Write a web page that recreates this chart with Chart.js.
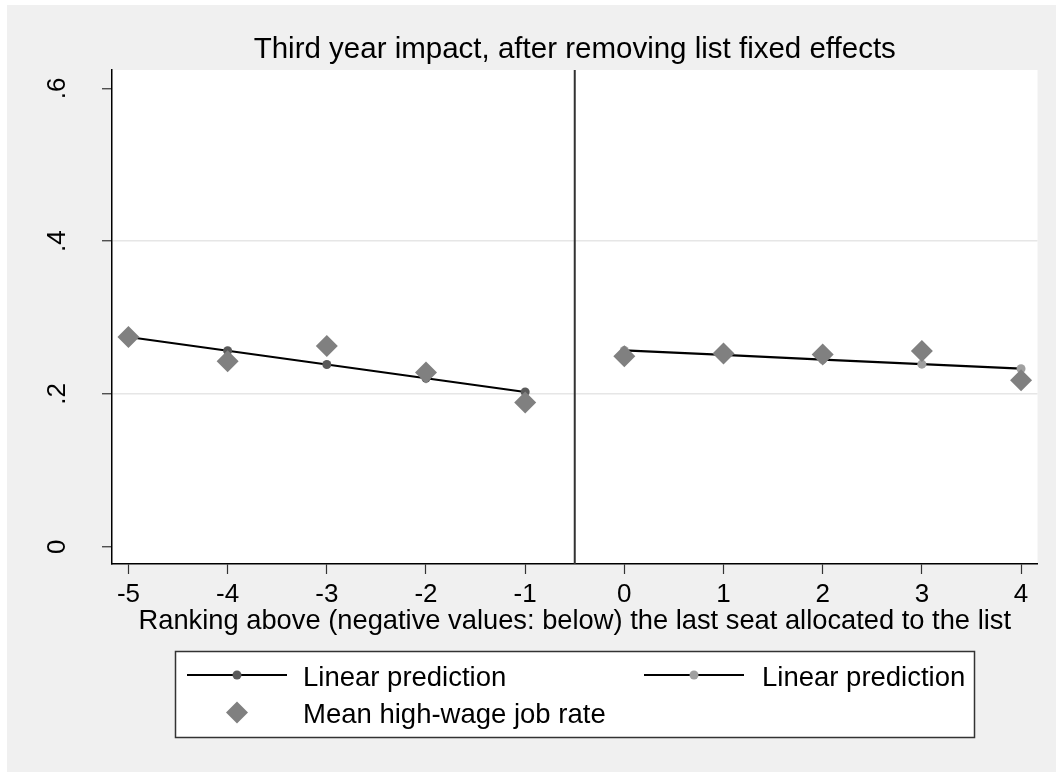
<!DOCTYPE html>
<html>
<head>
<meta charset="utf-8">
<title>Third year impact</title>
<script src="https://cdn.jsdelivr.net/npm/chart.js@4.4.1/dist/chart.umd.min.js"></script>
<style>
  html, body { margin: 0; padding: 0; background: #ffffff; }
  canvas { display: block; }
</style>
</head>
<body>
<canvas id="chart" width="1056" height="772"></canvas>
<script>
// Ranks below / above the last allocated seat
const rankBelow = [-5, -4, -3, -2, -1];
const rankAbove = [0, 1, 2, 3, 4];
// Linear fits on each side of the cutoff
const fitBelow = [0.2745, 0.2565, 0.2385, 0.2205, 0.2025];
const fitAbove = [0.257, 0.251, 0.245, 0.239, 0.233];
// Mean high-wage job rate per rank
const meanRank = [-5, -4, -3, -2, -1, 0, 1, 2, 3, 4];
const meanRate = [0.2745, 0.2427, 0.2628, 0.228, 0.1888, 0.2493, 0.2528, 0.2515, 0.2562, 0.2179];
// Axis ticks
const xTicks = [-5, -4, -3, -2, -1, 0, 1, 2, 3, 4];
const yTicks = [0, 0.2, 0.4, 0.6];
const yTickLabels = ['0', '.2', '.4', '.6'];
const yGridAt = [0.2, 0.4];
const cutoff = -0.5;
const xRange = [-5.166, 4.166];
const yRange = [-0.0226, 0.624];

const titleText = 'Third year impact, after removing list fixed effects';
const xTitle = 'Ranking above (negative values: below) the last seat allocated to the list';

const FONT = '"Liberation Sans", Arial, Helvetica, sans-serif';
Chart.defaults.font.family = FONT;
Chart.defaults.color = '#000000';

const toPoints = (xs, ys) => xs.map((x, i) => ({ x: x, y: ys[i] }));

// Gray graph region with a white plot region
const backgroundPlugin = {
  id: 'graphBackground',
  beforeDraw(chart) {
    const ctx = chart.ctx;
    const a = chart.chartArea;
    ctx.save();
    ctx.fillStyle = '#ffffff';
    ctx.fillRect(0, 0, chart.width, chart.height);
    ctx.fillStyle = '#F0F0F0';
    ctx.fillRect(7, 5, chart.width - 7, chart.height - 5);
    ctx.fillStyle = '#ffffff';
    ctx.fillRect(a.left, a.top, a.right - a.left, a.bottom - a.top);
    ctx.restore();
  }
};

// Boxed legend under the axis title, two columns
const boxLegendPlugin = {
  id: 'boxLegend',
  afterDraw(chart) {
    const ctx = chart.ctx;
    const ds = chart.data.datasets;
    const box = { x: 175, y: 651, w: 799, h: 86 };
    ctx.save();
    ctx.fillStyle = '#ffffff';
    ctx.fillRect(box.x, box.y, box.w, box.h);
    ctx.strokeStyle = '#333333';
    ctx.lineWidth = 1.5;
    ctx.strokeRect(box.x + 0.5, box.y + 0.5, box.w, box.h);

    const lineSample = (x0, x1, y, d) => {
      ctx.strokeStyle = d.borderColor;
      ctx.lineWidth = d.borderWidth;
      ctx.beginPath();
      ctx.moveTo(x0, y);
      ctx.lineTo(x1, y);
      ctx.stroke();
      ctx.fillStyle = d.pointBackgroundColor;
      ctx.beginPath();
      ctx.arc((x0 + x1) / 2, y, d.pointRadius, 0, Math.PI * 2);
      ctx.fill();
    };
    const diamondSample = (cx, cy, d) => {
      const r = d.pointRadius;
      ctx.fillStyle = d.backgroundColor;
      ctx.beginPath();
      ctx.moveTo(cx, cy - r);
      ctx.lineTo(cx + r, cy);
      ctx.lineTo(cx, cy + r);
      ctx.lineTo(cx - r, cy);
      ctx.closePath();
      ctx.fill();
    };

    const row1 = 675, row2 = 712.5;
    lineSample(187, 287, row1, ds[1]);
    lineSample(644, 744, row1, ds[2]);
    diamondSample(237, row2, ds[0]);

    ctx.fillStyle = '#000000';
    ctx.font = '27.5px ' + FONT;
    ctx.textAlign = 'left';
    ctx.textBaseline = 'alphabetic';
    ctx.fillText(ds[1].label, 303, 686);
    ctx.fillText(ds[2].label, 762, 686);
    ctx.fillText(ds[0].label, 303, 722.5);
    ctx.restore();
  }
};

new Chart(document.getElementById('chart'), {
  type: 'scatter',
  data: {
    datasets: [
      {
        label: 'Mean high-wage job rate',
        data: toPoints(meanRank, meanRate),
        pointStyle: 'rectRot',
        pointRadius: 11,
        backgroundColor: '#808080',
        borderColor: '#808080',
        pointBorderWidth: 0,
        showLine: false,
        order: 0
      },
      {
        label: 'Linear prediction',
        data: toPoints(rankBelow, fitBelow),
        showLine: true,
        borderColor: '#000000',
        borderWidth: 2.2,
        pointRadius: 4.5,
        pointBackgroundColor: '#5A5A5A',
        pointBorderWidth: 0,
        order: 1
      },
      {
        label: 'Linear prediction',
        data: toPoints(rankAbove, fitAbove),
        showLine: true,
        borderColor: '#000000',
        borderWidth: 2.2,
        pointRadius: 4.5,
        pointBackgroundColor: '#A0A0A0',
        pointBorderWidth: 0,
        order: 1
      },
      {
        label: 'cutoff',
        data: [{ x: cutoff, y: yRange[0] }, { x: cutoff, y: yRange[1] }],
        showLine: true,
        borderColor: '#333333',
        borderWidth: 2,
        pointRadius: 0,
        order: 2
      }
    ]
  },
  options: {
    responsive: false,
    animation: false,
    layout: { padding: { left: 0, top: 20, right: 18.5, bottom: 134 } },
    plugins: {
      legend: { display: false },
      tooltip: { enabled: false },
      title: {
        display: true,
        text: titleText,
        fullSize: false,
        align: 'center',
        color: '#000000',
        font: { size: 29.5, weight: 'normal' },
        padding: { top: 12.3, bottom: 2.3 }
      }
    },
    scales: {
      x: {
        type: 'linear',
        min: xRange[0],
        max: xRange[1],
        afterBuildTicks: s => { s.ticks = xTicks.map(v => ({ value: v })); },
        afterFit: s => { s.height = 74; },
        grid: { drawOnChartArea: false, drawTicks: true, tickLength: 10, tickColor: '#333333', tickWidth: 1.2 },
        border: { display: true, color: '#000000', width: 1.5 },
        ticks: {
          autoSkip: false,
          maxRotation: 0,
          padding: 5,
          color: '#000000',
          font: { size: 26 },
          callback: v => String(v)
        },
        title: {
          display: true,
          text: xTitle,
          color: '#000000',
          font: { size: 27.3 },
          padding: { top: 0, bottom: 0 }
        }
      },
      y: {
        type: 'linear',
        min: yRange[0],
        max: yRange[1],
        afterBuildTicks: s => { s.ticks = yTicks.map(v => ({ value: v })); },
        afterFit: s => { s.width = 112; },
        grid: {
          drawTicks: true,
          tickLength: 10,
          tickColor: '#333333',
          tickWidth: 1.2,
          lineWidth: 1.5,
          color: c => (c.tick && yGridAt.some(g => Math.abs(g - c.tick.value) < 1e-9)) ? '#E6E6E6' : 'rgba(0,0,0,0)'
        },
        border: { display: true, color: '#000000', width: 1.5 },
        ticks: {
          autoSkip: false,
          minRotation: 90,
          maxRotation: 90,
          crossAlign: 'center',
          padding: 33,
          color: '#000000',
          font: { size: 26 },
          callback: v => {
            const i = yTicks.findIndex(t => Math.abs(t - v) < 1e-9);
            return i >= 0 ? yTickLabels[i] : '';
          }
        }
      }
    }
  },
  plugins: [backgroundPlugin, boxLegendPlugin]
});
</script>
</body>
</html>
